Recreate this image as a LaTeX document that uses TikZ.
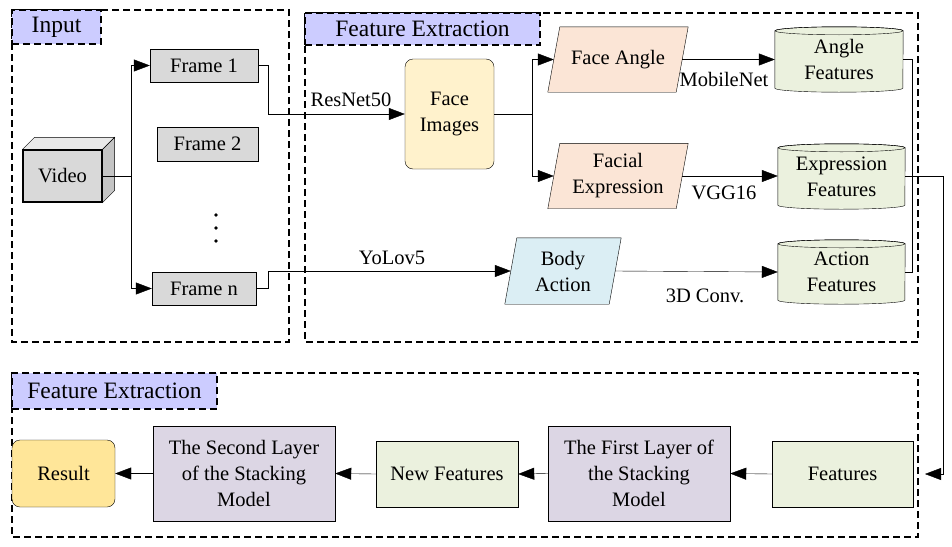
\documentclass[tikz,border=0pt]{standalone}
\usepackage{fontspec}
\setmainfont{Liberation Serif}
\usetikzlibrary{arrows.meta}
\definecolor{titlec}{HTML}{CCCCFF}
\definecolor{grayc}{HTML}{D9D9D9}
\definecolor{grayt}{HTML}{E9E9E9}
\definecolor{grays}{HTML}{C4C4C4}
\definecolor{yellowc}{HTML}{FFF2CC}
\definecolor{peachc}{HTML}{FBE5D6}
\definecolor{bluec}{HTML}{DBEEF4}
\definecolor{greenc}{HTML}{EBF1DE}
\definecolor{goldc}{HTML}{FFE699}
\definecolor{purplec}{HTML}{DCD6E4}
\pgfdeclarelayer{bg}
\pgfsetlayers{bg,main}
\newcommand\mycyl[3]{%
  \path[draw,fill=#2] ([yshift=-4pt]#1.north west) -- ([yshift=4pt]#1.south west)
    arc[start angle=180,end angle=360,x radius=#3,y radius=4pt]
    -- ([yshift=-4pt]#1.north east)
    arc[start angle=0,end angle=180,x radius=#3,y radius=4pt] -- cycle;
  \draw ([yshift=-4pt]#1.north) ellipse [x radius=#3,y radius=4pt];}
\newcommand\mypgram[3]{%
  \path[draw,fill=#2] ([xshift=#3]#1.north west) -- ([xshift=#3]#1.north east)
    -- ([xshift=-#3]#1.south east) -- ([xshift=-#3]#1.south west) -- cycle;}
\begin{document}
\begin{tikzpicture}[x=1pt,y=-1pt,line width=1.2pt,
  every node/.style={font=\fontsize{20.5}{26}\selectfont,inner sep=0pt,align=center},
  titlebox/.style={draw,dashed,dash pattern=on 7pt off 4pt,fill=titlec,font=\fontsize{23.5}{28}\selectfont},
  dbox/.style={draw,dash pattern=on 7pt off 4pt},
  arr/.style={-{Triangle[length=16pt,width=12pt]}},
  lbl/.style={}]
\useasboundingbox (0,0) rectangle (952,546);

% group frames
\draw[dbox] (12,10) rectangle (289,342);
\draw[dbox] (305,13) rectangle (918,342);
\draw[dbox] (12,373) rectangle (918,537);
\node[titlebox,minimum width=89pt,minimum height=34pt] (tin) at (56.5,27) {Input};
\node[titlebox,minimum width=235pt,minimum height=32pt] (tfe) at (422.5,29) {Feature Extraction};
\node[titlebox,minimum width=205pt,minimum height=36pt] (tfe2) at (114.5,391) {Feature Extraction};

% input
\node[draw,fill=grayc,minimum width=79pt,minimum height=52pt] (video) at (62.5,176) {Video};
\begin{pgfonlayer}{bg}
\path[draw,fill=grayt] (video.north west) -- ++(12,-12) -- ([xshift=12pt,yshift=12pt]video.north east) -- (video.north east) -- cycle;
\path[draw,fill=grays] (video.north east) -- ++(12,-12) -- ([xshift=12pt,yshift=12pt]video.south east) -- (video.south east) -- cycle;
\end{pgfonlayer}
\node[draw,fill=grayc,minimum width=108pt,minimum height=33pt] (frame1) at (204,65.5) {Frame 1};
\node[draw,fill=grayc,minimum width=101pt,minimum height=34pt] (frame2) at (207.5,144) {Frame 2};
\node[draw,fill=grayc,minimum width=104pt,minimum height=33pt] (framen) at (204,288.5) {Frame n};
\fill (216,215) circle[radius=1.8pt];
\fill (216,228) circle[radius=1.8pt];
\fill (216,241) circle[radius=1.8pt];

% feature extraction
\node[draw,fill=yellowc,rounded corners=8pt,minimum width=89pt,minimum height=110pt] (faceimg) at (449.5,114) {Face\\Images};
\node[minimum width=128pt,minimum height=65pt] (fa) at (618,59.5) {Face Angle};
\node[minimum width=128pt,minimum height=65pt] (fe) at (618,176) {Facial\\Expression};
\node[minimum width=104pt,minimum height=66pt] (body) at (563,271) {Body\\Action};
\node[minimum width=128pt,minimum height=65pt] (af) at (839,59.5) {Angle\\Features};
\node[minimum width=127pt,minimum height=65pt] (ef) at (841.5,176.5) {Expression\\Features};
\node[minimum width=127pt,minimum height=64pt] (acf) at (841.5,272) {Action\\Features};
\begin{pgfonlayer}{bg}
\mypgram{fa}{peachc}{6pt}
\mypgram{fe}{peachc}{6pt}
\mypgram{body}{bluec}{6pt}
\mycyl{af}{greenc}{64pt}
\mycyl{ef}{greenc}{63.5pt}
\mycyl{acf}{greenc}{63.5pt}
\end{pgfonlayer}

% bottom
\node[draw,fill=goldc,rounded corners=8pt,minimum width=103pt,minimum height=67pt] (result) at (63.5,473.5) {Result};
\node[draw,fill=purplec,minimum width=182pt,minimum height=95pt] (second) at (244,473.5) {The Second Layer\\of the Stacking\\Model};
\node[draw,fill=greenc,minimum width=142pt,minimum height=66pt] (newf) at (447,474) {New Features};
\node[draw,fill=purplec,minimum width=182pt,minimum height=95pt] (first) at (639,473.5) {The First Layer of\\the Stacking\\Model};
\node[draw,fill=greenc,minimum width=141pt,minimum height=66pt] (feat) at (842.5,474) {Features};
\coordinate (fin) at (925,474);
\coordinate (bus) at (912,0);
\coordinate (rbus) at (943,0);

% connectors
\draw[arr] (video.east) -- (131,176) |- (frame1.west);
\draw[arr] (131,176) |- (framen.west);
\draw[arr] (frame1.east) -- (268,65.5) |- (faceimg.west);
\draw[arr] (framen.east) -- (268,288.5) |- (body.west);
\draw[arr] (faceimg.east) -- (532,114) |- (fa.west);
\draw[arr] (532,114) |- (fe.west);
\draw[arr] (fa.east) -- (af.west);
\draw[arr] (fe.east) -- (fe.east -| ef.west);
\draw[arr] (body.east) -- (acf.west);
\draw (af.east) -| (bus |- acf.east) -- (acf.east);
\draw[arr] (ef.east) -| (rbus |- fin) -- (fin);
\draw[arr] (feat.west) -- (first.east);
\draw[arr] (first.west) -- (newf.east);
\draw[arr] (newf.west) -- (second.east);
\draw[arr] (second.west) -- (result.east);

% labels
\node[lbl] (l1) at (351,100) {ResNet50};
\node[lbl] (l2) at (392,258) {YoLov5};
\node[lbl] (l3) at (724,79) {MobileNet};
\node[lbl] (l4) at (724,193) {VGG16};
\node[lbl] (l5) at (705,296) {3D Conv.};
\end{tikzpicture}
\end{document}
